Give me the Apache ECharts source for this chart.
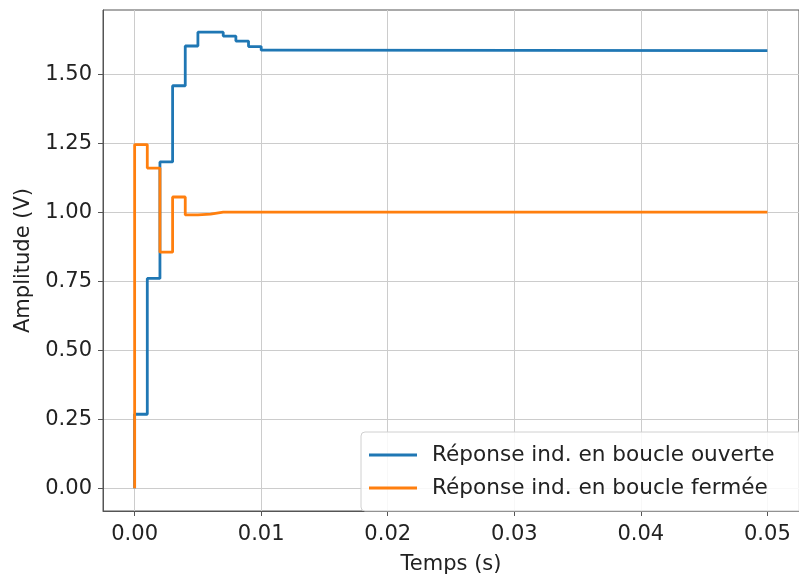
<!DOCTYPE html>
<html>
<head>
<meta charset="utf-8">
<script src="https://cdn.jsdelivr.net/npm/echarts@6/dist/echarts.min.js"></script>
<style>
html,body{margin:0;padding:0;background:#fff;}
#chart{width:799px;height:580px;}
</style>
</head>
<body>
<div id="chart"></div>
<script>
// Data (step responses, 'pre' step style)
const openTimes = [0, 0.001, 0.002, 0.003, 0.004, 0.005, 0.006, 0.007, 0.008, 0.009, 0.010, 0.011, 0.05];
const openValues = [0, 0.268, 0.760, 1.182, 1.458, 1.602, 1.652, 1.652, 1.638, 1.620, 1.600, 1.587, 1.585];
const closedTimes = [0, 0.001, 0.002, 0.003, 0.004, 0.005, 0.006, 0.007, 0.05];
const closedValues = [0, 1.245, 1.160, 0.855, 1.055, 0.990, 0.993, 1.000, 1.000];
const xTicks = [0, 0.01, 0.02, 0.03, 0.04, 0.05];
const yTicks = [0, 0.25, 0.5, 0.75, 1.0, 1.25, 1.5];
const seriesNames = ['Réponse ind. en boucle ouverte', 'Réponse ind. en boucle fermée'];
const xName = 'Temps (s)';
const yName = 'Amplitude (V)';

const font = 'DejaVu Sans';
const axisColor = '#555';
const gridColor = '#cccccc';

const zip = (a, b) => a.map((v, i) => [v, b[i]]);

const chart = echarts.init(document.getElementById('chart'), null, {renderer: 'canvas'});
chart.setOption({
  animation: false,
  backgroundColor: '#fff',
  grid: {left: 103, top: 10, width: 698, bottom: 62, show: true, borderColor: axisColor, borderWidth: 1, containLabel: false},
  legend: {
    orient: 'vertical', left: 361, top: 432,
    icon: 'rect', itemWidth: 48, itemHeight: 3, itemGap: 11,
    padding: [12, 40, 12, 8],
    backgroundColor: 'rgba(255,255,255,0.85)', borderColor: '#d0d0d0', borderWidth: 1, borderRadius: 4,
    textStyle: {fontFamily: font, fontSize: 21.6, color: '#222', padding: [0, 0, 0, 10]},
    data: seriesNames
  },
  xAxis: {
    type: 'value', min: -0.0025, max: 0.0525,
    name: xName, nameLocation: 'middle', nameGap: 43,
    nameTextStyle: {fontFamily: font, fontSize: 21, color: '#222'},
    axisLine: {show: true, onZero: false, lineStyle: {color: axisColor, width: 1}},
    axisTick: {show: true, inside: false, length: 5, customValues: xTicks, lineStyle: {color: axisColor}},
    axisLabel: {customValues: xTicks, margin: 13, fontFamily: font, fontSize: 21, color: '#222', formatter: v => v.toFixed(2)},
    splitLine: {show: true, lineStyle: {color: gridColor, width: 1}}
  },
  yAxis: {
    type: 'value', min: -0.0825, max: 1.7325,
    name: yName, nameLocation: 'middle', nameGap: 62,
    nameTextStyle: {fontFamily: font, fontSize: 21, color: '#222'},
    axisLine: {show: true, onZero: false, lineStyle: {color: axisColor, width: 1}},
    axisTick: {show: true, inside: false, length: 5, customValues: yTicks, lineStyle: {color: axisColor}},
    axisLabel: {customValues: yTicks, margin: 11, fontFamily: font, fontSize: 21, color: '#222', formatter: v => v.toFixed(2)},
    splitLine: {show: true, lineStyle: {color: gridColor, width: 1}}
  },
  series: [
    {name: seriesNames[0], type: 'line', step: 'start', showSymbol: false, symbol: 'none',
     data: zip(openTimes, openValues), color: '#1f77b4', lineStyle: {width: 2.8, color: '#1f77b4'}},
    {name: seriesNames[1], type: 'line', step: 'start', showSymbol: false, symbol: 'none',
     data: zip(closedTimes, closedValues), color: '#ff7f0e', lineStyle: {width: 2.8, color: '#ff7f0e'}}
  ]
});
</script>
</body>
</html>
